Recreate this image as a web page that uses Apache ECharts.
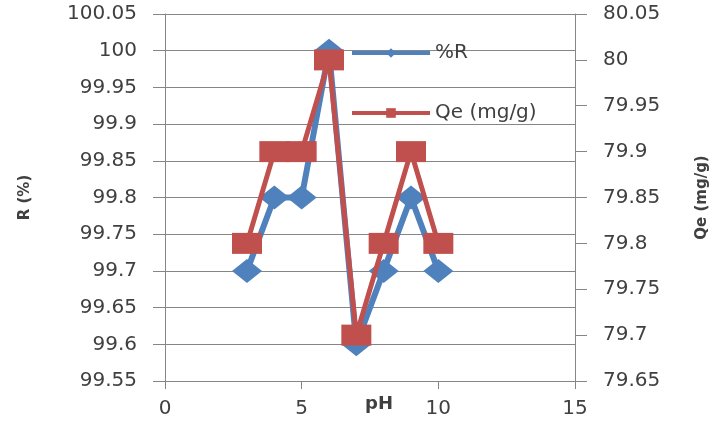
<!DOCTYPE html>
<html>
<head>
<meta charset="utf-8">
<script src="https://cdn.jsdelivr.net/npm/echarts@6/dist/echarts.min.js"></script>
<style>
  html, body { margin: 0; padding: 0; background: #fff; }
  #chart { width: 718px; height: 424px; }
</style>
</head>
<body>
<div id="chart"></div>
<script>
// pH values and the two measured series
const ph = [3, 4, 5, 6, 7, 8, 9, 10];
const removal = [99.7, 99.8, 99.8, 100, 99.6, 99.7, 99.8, 99.7];
const qe = [79.8, 79.9, 79.9, 80, 79.7, 79.8, 79.9, 79.8];

const textColor = '#404040';
const axisGray = '#868686';
const font = 'DejaVu Sans';

function pairs(xs, ys) {
	return xs.map(function(x, i) { return [x, ys[i]]; });
}

const chart = echarts.init(document.getElementById('chart'));

const option = {
	animation: false,
	grid: {
		left: 165,
		right: 143,
		top: 14,
		bottom: 43,
		outerBoundsMode: 'none'
	},
	legend: {
		orient: 'vertical',
		left: 350,
		top: 43,
		padding: 0,
		itemWidth: 78,
		itemHeight: 12,
		itemGap: 40,
		textStyle: { color: textColor, fontFamily: font, fontSize: 20 },
		data: [{
			name: '%R',
			lineStyle: { width: 4 }
		}, {
			name: 'Qe (mg/g)',
			lineStyle: { width: 4 }
		}]
	},
	xAxis: {
		type: 'value',
		min: 0,
		max: 15,
		interval: 5,
		name: 'pH',
		nameLocation: 'middle',
		nameGap: 14,
		nameMoveOverlap: false,
		nameTextStyle: { color: textColor, fontFamily: font, fontSize: 18, fontWeight: 'bold', padding: [0, 0, 0, 18] },
		axisLine: { lineStyle: { color: axisGray } },
		axisTick: { length: 8, lineStyle: { color: axisGray } },
		axisLabel: { color: textColor, fontFamily: font, fontSize: 20, margin: 18 },
		splitLine: { show: false }
	},
	yAxis: [{
		type: 'value',
		min: 99.55,
		max: 100.05,
		interval: 0.05,
		name: 'R (%)',
		nameLocation: 'middle',
		nameRotate: 90,
		nameGap: 132,
		nameMoveOverlap: false,
		nameTextStyle: { color: textColor, fontFamily: font, fontSize: 15, fontWeight: 'bold' },
		axisLine: { show: true, lineStyle: { color: axisGray } },
		axisTick: { show: true, length: 12, lineStyle: { color: axisGray } },
		axisLabel: { color: textColor, fontFamily: font, fontSize: 20, margin: 28 },
		splitLine: { lineStyle: { color: axisGray, width: 1 } }
	}, {
		type: 'value',
		position: 'right',
		min: 79.65,
		max: 80.05,
		interval: 0.05,
		name: 'Qe (mg/g)',
		nameLocation: 'middle',
		nameRotate: 90,
		nameGap: 120,
		nameMoveOverlap: false,
		nameTextStyle: { color: textColor, fontFamily: font, fontSize: 15, fontWeight: 'bold' },
		axisLine: { show: true, lineStyle: { color: axisGray } },
		axisTick: { show: true, length: 12, lineStyle: { color: axisGray } },
		axisLabel: { color: textColor, fontFamily: font, fontSize: 20, margin: 28 },
		splitLine: { show: false }
	}],
	series: [{
		name: '%R',
		type: 'line',
		yAxisIndex: 0,
		data: pairs(ph, removal),
		symbol: 'diamond',
		symbolSize: [30, 24],
		lineStyle: { color: '#4F81BD', width: 6 },
		itemStyle: { color: '#4F81BD' },
		z: 2
	}, {
		name: 'Qe (mg/g)',
		type: 'line',
		yAxisIndex: 1,
		data: pairs(ph, qe),
		symbol: 'rect',
		symbolSize: [30, 21],
		lineStyle: { color: '#C0504D', width: 5 },
		itemStyle: { color: '#C0504D' },
		z: 3
	}]
};

chart.setOption(option);
</script>
</body>
</html>
